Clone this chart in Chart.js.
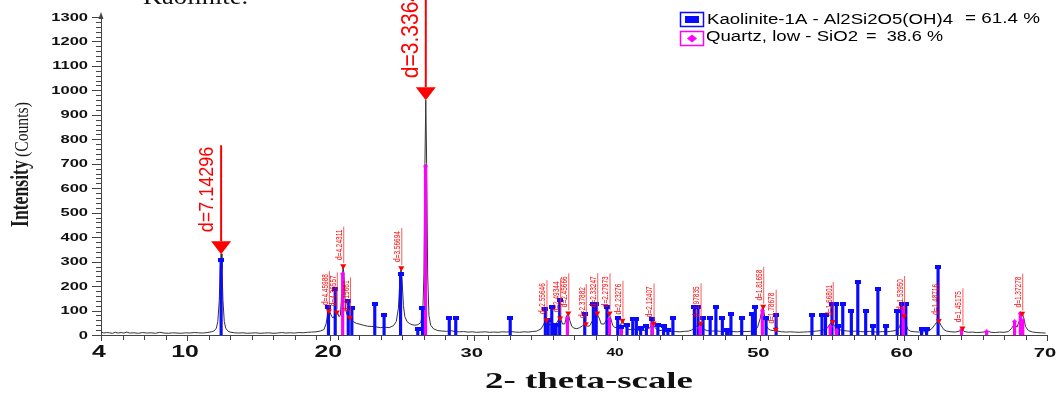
<!DOCTYPE html>
<html>
<head>
<meta charset="utf-8">
<script src="https://cdn.jsdelivr.net/npm/chart.js@4.4.1/dist/chart.umd.min.js"></script>
<style>
  html, body { margin: 0; padding: 0; background: #fff; }
  #wrap { width: 1060px; height: 394px; }
</style>
</head>
<body>
<div id="wrap"><canvas id="xrd" width="1060" height="394"></canvas></div>
<script>
const patternTheta = [
  4.0, 4.2, 4.4, 4.6, 4.8, 5.0, 5.2, 5.4, 5.6, 5.8, 6.0, 6.3, 6.6, 6.9, 7.2, 7.5, 7.8, 8.1, 8.4, 8.7,
  9.0, 9.3, 9.6, 9.9, 10.2, 10.5, 10.8, 11.1, 11.4, 11.7, 11.9, 12.05, 12.15, 12.25, 12.32, 12.38, 12.44, 12.51, 12.6, 12.7,
  12.85, 13.0, 13.3, 13.6, 13.9, 14.2, 14.5, 14.8, 15.1, 15.4, 15.7, 16.0, 16.3, 16.6, 16.9, 17.2, 17.5, 17.8, 18.1, 18.4,
  18.7, 19.0, 19.3, 19.55, 19.7, 19.8, 19.9, 20.0, 20.1, 20.2, 20.3, 20.42, 20.5, 20.6, 20.7, 20.8, 20.88, 20.95, 21.05, 21.15,
  21.25, 21.35, 21.45, 21.6, 21.8, 22.0, 22.3, 22.6, 22.9, 23.2, 23.5, 23.8, 24.1, 24.4, 24.6, 24.75, 24.85, 24.93, 25.0, 25.1,
  25.2, 25.35, 25.5, 25.7, 25.9, 26.1, 26.3, 26.45, 26.53, 26.6, 26.66, 26.72, 26.79, 26.88, 27.0, 27.2, 27.5, 27.8, 28.1, 28.4,
  28.7, 29.0, 29.3, 29.6, 29.9, 30.2, 30.5, 30.8, 31.1, 31.4, 31.7, 32.0, 32.3, 32.6, 32.9, 33.2, 33.5, 33.8, 34.1, 34.4,
  34.7, 34.9, 35.05, 35.2, 35.35, 35.5, 35.65, 35.8, 35.95, 36.05, 36.2, 36.35, 36.5, 36.6, 36.7, 36.85, 37.0, 37.2, 37.4, 37.6,
  37.8, 37.95, 38.1, 38.3, 38.45, 38.6, 38.75, 38.9, 39.1, 39.3, 39.45, 39.55, 39.7, 39.85, 40.0, 40.15, 40.4, 40.55, 40.7, 40.9,
  41.1, 41.3, 41.5, 41.7, 41.9, 42.1, 42.3, 42.5, 42.65, 42.8, 43.0, 43.2, 43.5, 43.8, 44.1, 44.4, 44.7, 45.0, 45.2, 45.4,
  45.55, 45.7, 45.83, 45.95, 46.1, 46.3, 46.6, 46.9, 47.2, 47.5, 47.8, 48.1, 48.4, 48.7, 49.0, 49.3, 49.6, 49.8, 50.0, 50.15,
  50.25, 50.4, 50.55, 50.7, 50.9, 51.05, 51.2, 51.5, 51.8, 52.1, 52.4, 52.7, 53.0, 53.3, 53.6, 53.9, 54.2, 54.5, 54.7, 54.85,
  55.0, 55.15, 55.3, 55.5, 55.8, 56.1, 56.4, 56.7, 57.0, 57.3, 57.6, 57.9, 58.2, 58.5, 58.8, 59.1, 59.4, 59.7, 59.9, 60.0,
  60.12, 60.3, 60.5, 60.8, 61.1, 61.4, 61.7, 61.95, 62.15, 62.3, 62.45, 62.6, 62.8, 63.0, 63.3, 63.6, 63.9, 64.05, 64.2, 64.5,
  64.8, 65.1, 65.4, 65.7, 65.9, 66.1, 66.4, 66.7, 67.0, 67.3, 67.5, 67.65, 67.75, 67.9, 68.05, 68.15, 68.27, 68.38, 68.5, 68.7,
  69.0, 69.3, 69.6, 69.9
];
const patternCounts = [
  12, 8, 10, 9, 7, 11, 8, 10, 8, 12, 8, 9, 7, 10, 8, 9, 7, 11, 8, 7,
  9, 8, 7, 9, 8, 10, 9, 8, 10, 13, 17, 28, 55, 140, 270, 332, 270, 140, 55, 28,
  16, 12, 9, 8, 9, 7, 8, 9, 7, 8, 9, 7, 8, 10, 8, 9, 8, 10, 9, 11,
  12, 13, 16, 22, 45, 80, 100, 90, 75, 70, 80, 95, 92, 75, 80, 170, 280, 250, 110, 85,
  75, 72, 62, 55, 48, 45, 40, 36, 35, 33, 30, 32, 30, 38, 55, 110, 220, 272, 230, 120,
  75, 55, 48, 42, 40, 42, 50, 90, 250, 700, 960, 700, 250, 80, 40, 25, 18, 16, 15, 18,
  14, 13, 14, 12, 13, 11, 12, 13, 11, 12, 11, 13, 12, 14, 12, 11, 13, 12, 14, 16,
  25, 45, 62, 48, 40, 52, 42, 50, 65, 68, 45, 45, 80, 88, 60, 35, 28, 26, 30, 38,
  45, 35, 38, 60, 75, 88, 70, 45, 45, 65, 88, 70, 40, 30, 32, 35, 58, 35, 25, 22,
  25, 22, 18, 20, 18, 22, 30, 48, 30, 22, 18, 20, 16, 15, 14, 13, 15, 16, 20, 28,
  35, 40, 48, 35, 22, 18, 16, 17, 15, 14, 16, 14, 13, 15, 14, 15, 20, 30, 70, 115,
  95, 40, 25, 20, 18, 22, 16, 13, 12, 13, 12, 11, 12, 13, 14, 16, 18, 22, 30, 45,
  54, 40, 28, 22, 18, 16, 15, 16, 14, 13, 15, 13, 12, 14, 13, 15, 18, 30, 70, 78,
  50, 22, 15, 13, 12, 13, 15, 25, 40, 52, 58, 40, 22, 16, 13, 12, 16, 26, 15, 11,
  12, 10, 11, 13, 15, 11, 10, 12, 11, 14, 25, 38, 45, 32, 55, 85, 88, 70, 35, 18,
  12, 10, 9, 8
];

// reference sticks: Kaolinite-1A
const kaoliniteTheta = [
  12.38, 19.87, 20.34, 21.25, 21.5, 23.1, 23.75, 24.9, 26.1, 26.43, 28.3, 28.75, 32.55,
  35.0, 35.2, 35.45, 35.6, 35.75, 36.0, 37.75, 38.35, 38.55, 39.3, 40.05, 40.3, 40.7,
  41.1, 41.35, 41.65, 42.05, 42.45, 42.85, 43.25, 43.55, 43.9, 45.4, 45.65, 46.0, 46.5,
  46.9, 47.35, 47.65, 47.75, 47.95, 48.7, 49.45, 49.65, 50.4, 51.1, 53.6, 54.3, 54.55,
  55.0, 55.3, 55.45, 55.75, 56.35, 56.8, 57.35, 57.85, 58.2, 58.75, 59.55, 59.85, 60.15,
  61.25, 61.6, 62.4
];
const kaoliniteCounts = [
  305, 113, 187, 140, 112, 127, 82, 248, 23, 112, 68, 68, 68,
  105, 60, 113, 38, 40, 143, 85, 127, 127, 116, 68, 34, 40,
  67, 67, 30, 37, 67, 40, 37, 20, 68, 113, 113, 68, 68,
  113, 68, 20, 20, 85, 68, 85, 113, 68, 82, 82, 82, 82,
  125, 125, 37, 125, 98, 215, 98, 37, 188, 37, 98, 125, 125,
  23, 23, 277
];

// reference sticks: Quartz, low
const quartzTheta = [20.86, 26.64, 36.54, 39.47, 40.3, 42.45, 45.79, 50.14, 54.87, 55.33, 59.96, 64.04, 65.79, 67.74, 68.14, 68.31];
const quartzCounts = [250, 690, 70, 65, 35, 45, 30, 100, 35, 20, 110, 20, 14, 55, 88, 60];

// marked peaks with their d-spacings
const peakTheta = [19.9, 20.45, 20.9, 21.37, 24.95, 35.08, 36.03, 36.6, 37.82, 38.62, 39.48, 40.38, 42.55, 45.83, 50.2, 51.07, 55.05, 60.03, 62.45, 64.1, 68.27];
const peakCounts = [98, 93, 282, 72, 274, 61, 68, 89, 45, 89, 89, 59, 48, 48, 116, 22, 54, 78, 58, 28, 88];
const peakLabels = ["d=4.45988", "d=4.36557", "d=4.24311", "d=4.15661", "d=3.56694", "d=2.55646", "d=2.49344", "d=2.45666",
  "d=2.37882", "d=2.33247", "d=2.27973", "d=2.23276", "d=2.12407", "d=1.97835", "d=1.81658", "d=1.78678", "d=1.66801",
  "d=1.53950", "d=1.48716", "d=1.45175", "d=1.37278"];

// the two strongest reflections, marked with big arrows
const mainTheta = [12.38, 26.66];
const mainCounts = [330, 960];
const mainLabels = ["d=7.14296", "d=3.3364"];

const xTicks = [4, 10, 20, 30, 40, 50, 60, 70];
const yTicks = [0, 100, 200, 300, 400, 500, 600, 700, 800, 900, 1000, 1100, 1200, 1300];
const phaseNames = ["Kaolinite-1A - Al2Si2O5(OH)4", "Quartz, low - SiO2"];
const phaseShares = ["= 61.4 %", "=  38.6 %"];

const BLUE = "#0a0aff";
const MAGENTA = "#ff00ff";
const RED = "#ff0000";
const SANS = '"Liberation Sans", Arial, sans-serif';
const SERIF = '"Liberation Serif", "Times New Roman", serif';

const toPoints = (xs, ys) => xs.map((x, i) => ({ x: x, y: ys[i] }));

// little cap images for the tops of the reference sticks
const makeCap = (w, h, color, diamond) => {
  const c = document.createElement("canvas");
  c.width = w; c.height = h;
  const g = c.getContext("2d");
  g.fillStyle = color;
  if (diamond) {
    g.beginPath();
    g.moveTo(w / 2, 0); g.lineTo(w, h / 2); g.lineTo(w / 2, h); g.lineTo(0, h / 2);
    g.closePath(); g.fill();
  } else {
    g.fillRect(0, 0, w, h);
  }
  return c;
};
const blueCap = makeCap(6, 4, BLUE, false);
const pinkCap = makeCap(5, 5, MAGENTA, true);

// text helpers: the figure was stretched sideways, so glyphs get widened
function hText(ctx, str, x, y, font, color, opts) {
  const o = opts || {};
  ctx.save();
  ctx.font = font;
  ctx.fillStyle = color;
  ctx.textAlign = o.align || "left";
  ctx.textBaseline = o.base || "alphabetic";
  let sx = o.sx || 1;
  if (o.width) sx = o.width / ctx.measureText(str).width;
  ctx.translate(x, y);
  ctx.scale(sx, 1);
  ctx.fillText(str, 0, 0);
  ctx.restore();
}

function vText(ctx, str, x, y, font, color, stretch) {
  ctx.save();
  ctx.font = font;
  ctx.fillStyle = color;
  ctx.textAlign = "left";
  ctx.textBaseline = "alphabetic";
  ctx.translate(x, y);
  ctx.rotate(-Math.PI / 2);
  ctx.scale(1, stretch);
  ctx.fillText(str, 0, 0);
  const w = ctx.measureText(str).width;
  ctx.restore();
  return w;
}

function seg(ctx, x1, y1, x2, y2) {
  ctx.beginPath();
  ctx.moveTo(x1, y1);
  ctx.lineTo(x2, y2);
  ctx.stroke();
}

const xTickSize = (v) => (v <= 20 ? 16 : v === 40 ? 10 : 13);

const decor = {
  id: "decor",
  afterDraw(chart) {
    const ctx = chart.ctx;
    const x = chart.scales.x;
    const y = chart.scales.y;
    const x0 = x.left;
    const yb = y.bottom;

    ctx.save();
    ctx.strokeStyle = "#444";
    ctx.lineWidth = 1;

    // y ticks, minor every 20 counts
    for (let v = 0; v <= 1300; v += 20) {
      const py = Math.round(y.getPixelForValue(v)) + 0.5;
      seg(ctx, x0 - (v % 100 === 0 ? 9 : 5), py, x0, py);
    }
    // x ticks
    for (let v = 4; v <= 70.001; v += 1.5) {
      const px = Math.round(x.getPixelForValue(v)) + 0.5;
      seg(ctx, px, yb, px, yb + 5);
    }
    xTicks.forEach((v) => {
      const px = Math.round(x.getPixelForValue(v)) + 0.5;
      seg(ctx, px, yb, px, yb + 6);
    });

    // arrow on top of the y axis
    ctx.fillStyle = "#444";
    ctx.beginPath();
    ctx.moveTo(x0, y.top - 5);
    ctx.lineTo(x0 - 2.5, y.top + 2);
    ctx.lineTo(x0 + 2.5, y.top + 2);
    ctx.closePath();
    ctx.fill();

    // tick labels
    yTicks.forEach((v) => {
      hText(ctx, String(v), x0 - 13, y.getPixelForValue(v) + 0.5, "bold 11px " + SANS, "#111",
        { align: "right", base: "middle", sx: 1.5 });
    });
    xTicks.forEach((v) => {
      hText(ctx, String(v), x.getPixelForValue(v) - 2, 353, "bold " + xTickSize(v) + "px " + SANS, "#111",
        { align: "center", base: "middle", sx: 1.55 });
    });

    // axis titles
    hText(ctx, "2- theta-scale", 485, 388, "bold 24px " + SERIF, "#111", { width: 208 });
    vText(ctx, "Intensity", 28, 227, "bold 17.7px " + SERIF, "#1a1a1a", 1.44);
    vText(ctx, "(Counts)", 28, 157, "15.7px " + SERIF, "#1a1a1a", 1.2);

    // caption line of the page above, cut by the crop
    hText(ctx, "Kaolinite.", 143, 4, "24px " + SERIF, "#111", { width: 105 });

    // small peak labels
    ctx.strokeStyle = "#ff3030";
    ctx.lineWidth = 0.8;
    peakTheta.forEach((t, i) => {
      const px = x.getPixelForValue(t);
      const py = y.getPixelForValue(peakCounts[i]);
      const len = vText(ctx, peakLabels[i], px - 1.2, py - 6, "6.5px " + SANS, RED, 1.3);
      seg(ctx, px + 0.5, py - 3, px + 0.5, py - 6 - len - 3);
    });

    // big arrows on the strongest reflections
    mainTheta.forEach((t, i) => {
      const px = x.getPixelForValue(t);
      const tip = y.getPixelForValue(mainCounts[i]);
      ctx.fillStyle = RED;
      ctx.beginPath();
      ctx.moveTo(px - 10, tip - 13);
      ctx.lineTo(px + 10, tip - 13);
      ctx.lineTo(px, tip);
      ctx.closePath();
      ctx.fill();
      ctx.strokeStyle = RED;
      ctx.lineWidth = 2;
      seg(ctx, px, tip - 13, px, tip - 109);
      vText(ctx, mainLabels[i], px - 8, tip - 22, (i === 0 ? 18 : 21) + "px " + SANS, RED, 1.15);
    });

    // legend
    const ds = chart.data.datasets;
    ctx.lineWidth = 1.5;
    ctx.strokeStyle = ds[1].backgroundColor;
    ctx.strokeRect(680.5, 12.5, 23, 14);
    ctx.fillStyle = ds[1].backgroundColor;
    ctx.fillRect(685, 16, 14, 7);
    hText(ctx, ds[1].label, 707, 24, "14px " + SANS, "#000", { width: 246 });
    hText(ctx, phaseShares[0], 965, 23, "15px " + SANS, "#000", { width: 75 });

    ctx.strokeStyle = ds[2].backgroundColor;
    ctx.strokeRect(680.5, 31.5, 23, 14);
    ctx.fillStyle = ds[2].backgroundColor;
    ctx.beginPath();
    ctx.moveTo(692, 34.5); ctx.lineTo(697, 38.5); ctx.lineTo(692, 42.5); ctx.lineTo(687, 38.5);
    ctx.closePath();
    ctx.fill();
    hText(ctx, ds[2].label, 706, 41, "14px " + SANS, "#000", { width: 152 });
    hText(ctx, phaseShares[1], 866, 41, "15px " + SANS, "#000", { width: 77 });

    ctx.restore();
  }
};

new Chart(document.getElementById("xrd"), {
  type: "bar",
  data: {
    datasets: [
      {
        type: "line",
        label: "pattern",
        data: toPoints(patternTheta, patternCounts),
        borderColor: "#333",
        borderWidth: 1,
        pointRadius: 0,
        tension: 0,
        order: 6
      },
      {
        type: "bar",
        label: phaseNames[0],
        data: toPoints(kaoliniteTheta, kaoliniteCounts),
        backgroundColor: BLUE,
        barThickness: 2.5,
        grouped: false,
        order: 4
      },
      {
        type: "bar",
        label: phaseNames[1],
        data: toPoints(quartzTheta, quartzCounts),
        backgroundColor: MAGENTA,
        barThickness: 2.5,
        grouped: false,
        order: 3
      },
      {
        type: "scatter",
        label: "kaolinite caps",
        data: toPoints(kaoliniteTheta, kaoliniteCounts),
        pointStyle: blueCap,
        order: 2
      },
      {
        type: "scatter",
        label: "quartz caps",
        data: toPoints(quartzTheta, quartzCounts),
        pointStyle: pinkCap,
        order: 2
      },
      {
        type: "scatter",
        label: "peaks",
        data: toPoints(peakTheta, peakCounts),
        pointStyle: "triangle",
        rotation: 180,
        pointRadius: 3.5,
        backgroundColor: RED,
        borderColor: RED,
        borderWidth: 0,
        order: 1
      }
    ]
  },
  options: {
    responsive: false,
    animation: false,
    events: [],
    layout: { padding: { top: 17, right: 13, left: 0, bottom: 0 } },
    plugins: {
      legend: { display: false },
      tooltip: { enabled: false },
      title: { display: false }
    },
    scales: {
      x: {
        type: "linear",
        min: 4,
        max: 70,
        offset: false,
        grid: { display: false, offset: false },
        border: { display: true, color: "#444", width: 1 },
        ticks: { display: false },
        afterFit: (s) => { s.height = 59; }
      },
      y: {
        type: "linear",
        min: 0,
        max: 1300,
        grid: { display: false },
        border: { display: true, color: "#444", width: 1 },
        ticks: { display: false, stepSize: 100 },
        afterFit: (s) => { s.width = 101; }
      }
    }
  },
  plugins: [decor]
});
</script>
</body>
</html>
